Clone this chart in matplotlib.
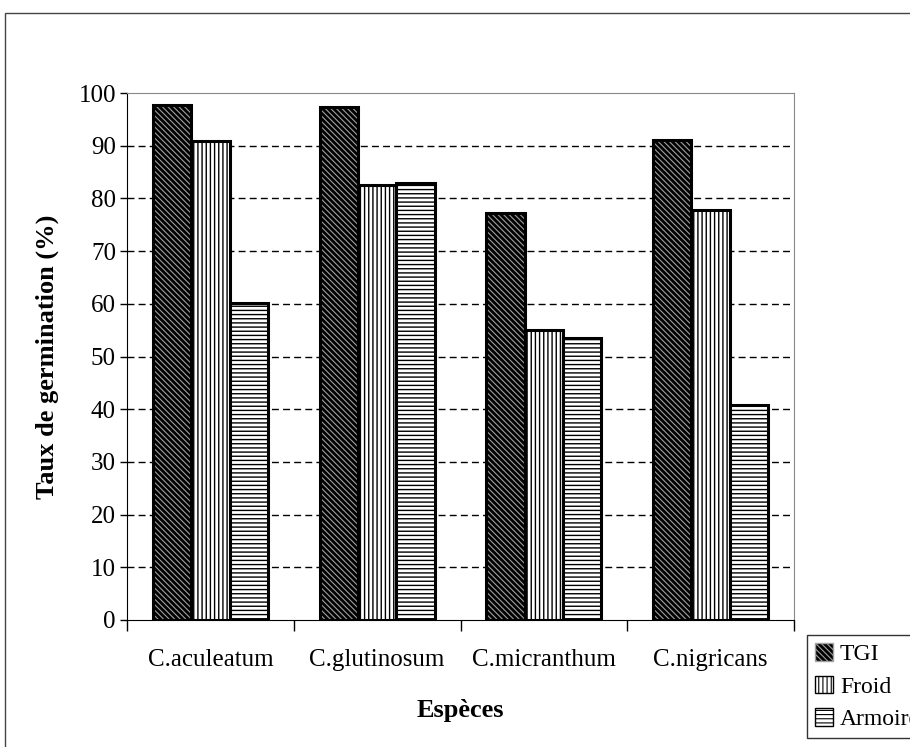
import matplotlib
matplotlib.use("Agg")
import matplotlib.pyplot as plt
from matplotlib.patches import Rectangle, Patch
import numpy as np

species = ["C.aculeatum", "C.glutinosum", "C.micranthum", "C.nigricans"]
tgi = [97.7, 97.3, 77.2, 91.1]
froid = [90.8, 82.5, 55.1, 77.8]
armoire = [60.2, 83.0, 53.6, 40.8]

plt.rcParams["font.family"] = ["Liberation Serif", "DejaVu Serif"]

fig = plt.figure(figsize=(9.1, 7.47), dpi=100)
ax = fig.add_axes([127 / 910, 1 - 620 / 747, 667 / 910, 527 / 747])

x = np.arange(len(species))
w = 0.23

# TGI: black with fine grey diagonal lines
plt.rcParams["hatch.linewidth"] = 0.8
tgi_bars = ax.bar(x - w, tgi, w, color="black", edgecolor="#a0a0a0", hatch="\\\\\\\\\\\\",
                  linewidth=0, zorder=3)
ax.bar(x - w, tgi, w, fill=False, edgecolor="black", linewidth=2.2, zorder=4)
plt.rcParams["hatch.linewidth"] = 1.0
# Froid: vertical stripes
ax.bar(x, froid, w, color="white", edgecolor="black", hatch="||||", linewidth=2.2, zorder=3)
# Armoire: horizontal stripes
ax.bar(x + w, armoire, w, color="white", edgecolor="black", hatch="----", linewidth=2.2, zorder=3)

ax.set_xlim(-0.5, len(species) - 0.5)
ax.set_ylim(0, 100)
ax.set_yticks(np.arange(0, 101, 10))
ax.set_xticks(x)
ax.set_xticklabels(species, fontsize=18)
ax.set_xticks(np.arange(-0.5, len(species), 1), minor=True)
ax.tick_params(axis="x", which="major", length=0, pad=21)
ax.tick_params(axis="x", which="minor", length=8, direction="out", width=1)
ax.tick_params(axis="y", labelsize=18, length=5, direction="out", width=1, pad=3)

for v in range(10, 100, 10):
    ax.axhline(v, color="black", linestyle=(0, (5, 3)), linewidth=1, zorder=1)

ax.spines["left"].set_color("black")
ax.spines["bottom"].set_color("black")
ax.spines["top"].set_color("#888888")
ax.spines["right"].set_color("#888888")

ax.set_ylabel("Taux de germination (%)", fontsize=19, fontweight="bold", labelpad=14)
ax.set_xlabel("Espèces", fontsize=19, fontweight="bold", labelpad=20)

# legend box sitting at the lower right corner
plt.rcParams["hatch.linewidth"] = 0.8
handles = [
    Patch(facecolor="black", edgecolor="#a0a0a0", hatch="\\\\\\\\\\\\", label="TGI"),
    Patch(facecolor="white", edgecolor="black", hatch="||||", label="Froid"),
    Patch(facecolor="white", edgecolor="black", hatch="----", label="Armoire"),
]
leg = fig.legend(handles=handles, loc="upper left", bbox_to_anchor=(807 / 910, 1 - 635 / 747),
                 fontsize=17, frameon=True, fancybox=False, edgecolor="black",
                 handlelength=0.75, handleheight=0.75, handletextpad=0.3,
                 borderpad=0.35, labelspacing=0.45, borderaxespad=0)
leg.get_frame().set_linewidth(1)

# outer frame around the chart
fig.patches.append(Rectangle((5 / 910, -0.05), 1.2, 1 - 13 / 747 + 0.05,
                             transform=fig.transFigure, fill=False,
                             edgecolor="#444444", linewidth=1))

plt.savefig("out.png", dpi=100)
